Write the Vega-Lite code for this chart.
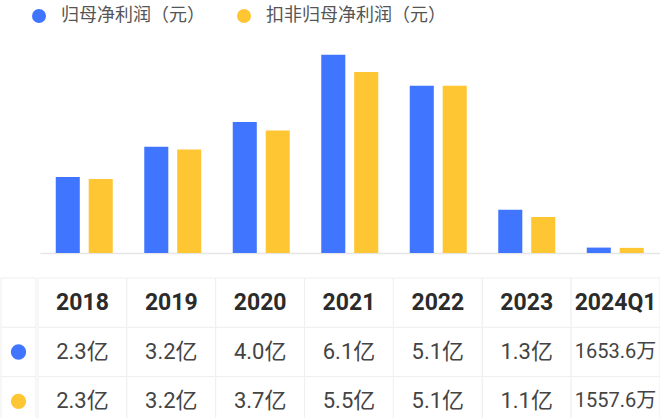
{
  "$schema": "https://vega.github.io/schema/vega-lite/v6.json",
  "padding": 0,
  "background": "white",
  "config": {"view": {"stroke": null}, "font": "Roboto, 'Noto Sans CJK SC'"},
  "datasets": {
    "bars": [
      {"period": "2018", "series": "归母净利润（元）", "value": 2.32},
      {"period": "2018", "series": "扣非归母净利润（元）", "value": 2.26},
      {"period": "2019", "series": "归母净利润（元）", "value": 3.24},
      {"period": "2019", "series": "扣非归母净利润（元）", "value": 3.16},
      {"period": "2020", "series": "归母净利润（元）", "value": 4.0},
      {"period": "2020", "series": "扣非归母净利润（元）", "value": 3.74},
      {"period": "2021", "series": "归母净利润（元）", "value": 6.05},
      {"period": "2021", "series": "扣非归母净利润（元）", "value": 5.52},
      {"period": "2022", "series": "归母净利润（元）", "value": 5.1},
      {"period": "2022", "series": "扣非归母净利润（元）", "value": 5.1},
      {"period": "2023", "series": "归母净利润（元）", "value": 1.32},
      {"period": "2023", "series": "扣非归母净利润（元）", "value": 1.1},
      {"period": "2024Q1", "series": "归母净利润（元）", "value": 0.165},
      {"period": "2024Q1", "series": "扣非归母净利润（元）", "value": 0.156}
    ],
    "rows": [
      {"row": "header"},
      {"row": "归母净利润（元）"},
      {"row": "扣非归母净利润（元）"}
    ],
    "cells": [
      {"period": "2018", "row": "header", "text": "2018"},
      {"period": "2019", "row": "header", "text": "2019"},
      {"period": "2020", "row": "header", "text": "2020"},
      {"period": "2021", "row": "header", "text": "2021"},
      {"period": "2022", "row": "header", "text": "2022"},
      {"period": "2023", "row": "header", "text": "2023"},
      {"period": "2024Q1", "row": "header", "text": "2024Q1"},
      {"period": "2018", "row": "归母净利润（元）", "text": "2.3亿"},
      {"period": "2019", "row": "归母净利润（元）", "text": "3.2亿"},
      {"period": "2020", "row": "归母净利润（元）", "text": "4.0亿"},
      {"period": "2021", "row": "归母净利润（元）", "text": "6.1亿"},
      {"period": "2022", "row": "归母净利润（元）", "text": "5.1亿"},
      {"period": "2023", "row": "归母净利润（元）", "text": "1.3亿"},
      {"period": "2024Q1", "row": "归母净利润（元）", "text": "1653.6万"},
      {"period": "2018", "row": "扣非归母净利润（元）", "text": "2.3亿"},
      {"period": "2019", "row": "扣非归母净利润（元）", "text": "3.2亿"},
      {"period": "2020", "row": "扣非归母净利润（元）", "text": "3.7亿"},
      {"period": "2021", "row": "扣非归母净利润（元）", "text": "5.5亿"},
      {"period": "2022", "row": "扣非归母净利润（元）", "text": "5.1亿"},
      {"period": "2023", "row": "扣非归母净利润（元）", "text": "1.1亿"},
      {"period": "2024Q1", "row": "扣非归母净利润（元）", "text": "1557.6万"}
    ]
  },
  "spacing": 24,
  "vconcat": [
    {
      "width": 660,
      "height": 253,
      "data": {"name": "bars"},
      "mark": {"type": "bar"},
      "encoding": {
        "x": {
          "field": "period", "type": "nominal", "sort": null,
          "scale": {"range": [39, 658.5], "paddingInner": 0.356, "paddingOuter": 0.178},
          "axis": {"title": null, "labels": false, "ticks": false, "grid": false, "domainColor": "#e6e6e6", "domainWidth": 1.5}
        },
        "xOffset": {
          "field": "series", "type": "nominal",
          "sort": ["归母净利润（元）", "扣非归母净利润（元）"],
          "scale": {"paddingInner": 0.27}
        },
        "y": {
          "field": "value", "type": "quantitative",
          "scale": {"domain": [0, 7.72], "nice": false, "zero": true},
          "axis": null
        },
        "color": {
          "field": "series", "type": "nominal",
          "scale": {"domain": ["归母净利润（元）", "扣非归母净利润（元）"], "range": ["#4076ff", "#ffc633"]},
          "legend": {
            "title": null, "orient": "none", "legendX": 29, "legendY": 7, "padding": 0,
            "direction": "horizontal", "symbolType": "circle", "symbolSize": 196,
            "symbolStrokeWidth": 0, "symbolOpacity": 1,
            "labelFontSize": 18, "labelColor": "#555555", "labelOffset": 13, "labelLimit": 400,
            "columnPadding": 30, "labelFont": "'Noto Sans CJK SC'"
          }
        }
      }
    },
    {
      "spacing": 0,
      "hconcat": [
        {
          "width": 35,
          "height": 148,
          "data": {"name": "rows"},
          "layer": [
            {
              "mark": {"type": "rect", "fill": "white", "stroke": "#efefef", "strokeWidth": 1},
              "encoding": {
                "y": {"field": "row", "type": "nominal", "sort": null,
                  "scale": {"domain": ["header", "归母净利润（元）", "扣非归母净利润（元）"], "paddingInner": 0, "paddingOuter": 0},
                  "axis": null}
              }
            },
            {
              "transform": [{"filter": "datum.row != 'header'"}],
              "mark": {"type": "point", "filled": true, "shape": "circle", "size": 235, "opacity": 1},
              "encoding": {
                "y": {"field": "row", "type": "nominal", "sort": null,
                  "scale": {"domain": ["header", "归母净利润（元）", "扣非归母净利润（元）"], "paddingInner": 0, "paddingOuter": 0},
                  "axis": null},
                "color": {"field": "row", "type": "nominal", "legend": null}
              }
            }
          ]
        },
        {
          "width": 622,
          "height": 148,
          "data": {"name": "cells"},
          "encoding": {
            "x": {"field": "period", "type": "nominal", "sort": null,
              "scale": {"paddingInner": 0, "paddingOuter": 0}, "axis": null},
            "y": {"field": "row", "type": "nominal", "sort": null,
              "scale": {"domain": ["header", "归母净利润（元）", "扣非归母净利润（元）"], "paddingInner": 0, "paddingOuter": 0},
              "axis": null}
          },
          "layer": [
            {
              "mark": {"type": "rect", "fill": "white", "stroke": "#efefef", "strokeWidth": 1}
            },
            {
              "transform": [{"filter": "datum.row == 'header'"}],
              "mark": {"type": "text", "fontSize": 23, "fontWeight": "bold", "color": "#2b2b2b", "font": "Roboto, 'Noto Sans CJK SC'"},
              "encoding": {"text": {"field": "text"}}
            },
            {
              "transform": [{"filter": "datum.row != 'header'"}],
              "mark": {"type": "text", "color": "#444444", "font": "Roboto, 'Noto Sans CJK SC'"},
              "encoding": {
                "text": {"field": "text"},
                "size": {"condition": {"test": "datum.period == '2024Q1'", "value": 20}, "value": 22}
              }
            }
          ]
        }
      ]
    }
  ]
}
